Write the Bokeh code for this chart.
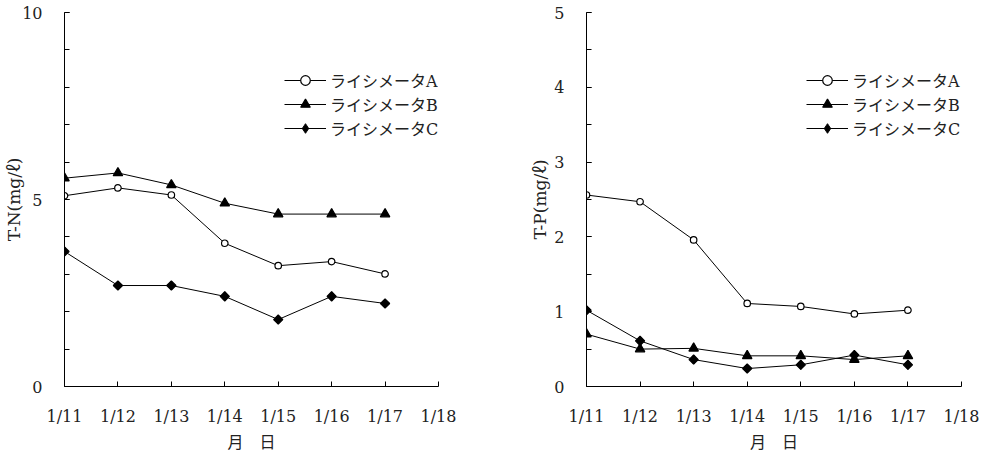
import math
from bokeh.plotting import figure
from bokeh.models import Range1d, FixedTicker, Legend, LegendItem
from bokeh.layouts import row
from bokeh.embed import file_html
from bokeh.resources import INLINE

dates = ["1/11", "1/12", "1/13", "1/14", "1/15", "1/16", "1/17", "1/18"]
series_names = ["ライシメータA", "ライシメータB", "ライシメータC"]

tn_a = [5.10, 5.31, 5.12, 3.83, 3.23, 3.34, 3.01]
tn_b = [5.57, 5.71, 5.39, 4.90, 4.61, 4.61, 4.61]
tn_c = [3.61, 2.70, 2.70, 2.41, 1.79, 2.41, 2.22]

tp_a = [2.56, 2.47, 1.96, 1.11, 1.07, 0.97, 1.02]
tp_b = [0.70, 0.50, 0.51, 0.41, 0.41, 0.36, 0.41]
tp_c = [1.02, 0.61, 0.36, 0.24, 0.29, 0.42, 0.29]

FONT = "'DejaVu Serif', 'Noto Sans CJK JP', serif"
TXT = "#222222"


def make(width, bl, br, ymax, ymajor, yminor, ylabel, data, ylab_standoff):
    p = figure(width=width, height=454, output_backend="svg", toolbar_location=None,
               x_range=Range1d(0, 7), y_range=Range1d(0, ymax),
               min_border_left=bl, min_border_right=br, min_border_top=12,
               min_border_bottom=68)
    p.outline_line_color = None
    p.xgrid.visible = False
    p.ygrid.visible = False
    xs = list(range(len(data[0])))
    # marker, fill, size, angle, legend marker, legend size
    markers = [("circle", "white", 6.5, 0, "circle", 6.5),
               ("triangle", "black", 9.5, 0, "triangle", 9.5),
               ("square", "black", 6.5, math.pi / 4, "diamond", 9)]
    rends = []
    for ys, (mk, fill, sz, ang, lmk, lsz) in zip(data, markers):
        l = p.line(xs, ys, line_color="black", line_width=1)
        if mk == lmk:
            s = p.scatter(xs, ys, marker=mk, size=sz, fill_color=fill,
                          line_color="black", line_width=1.2)
            rends.append([l, s])
        else:
            ls = p.scatter(xs, ys, marker=lmk, size=lsz, fill_color=fill,
                           line_color="black", line_width=1.0)
            p.scatter(xs, ys, marker=mk, size=sz, angle=ang, fill_color=fill,
                      line_color="black", line_width=1.2)
            rends.append([l, ls])
    for ax in (p.xaxis[0], p.yaxis[0]):
        ax.axis_line_color = "black"
        ax.axis_line_width = 1
        ax.major_tick_in = 5
        ax.major_tick_out = 0
        ax.minor_tick_in = 5
        ax.minor_tick_out = 0
        ax.major_tick_line_color = "black"
        ax.minor_tick_line_color = "black"
        ax.major_label_text_font = FONT
        ax.major_label_text_font_size = "16px"
        ax.major_label_text_color = TXT
        ax.axis_label_text_font = FONT
        ax.axis_label_text_font_size = "16px"
        ax.axis_label_text_font_style = "normal"
        ax.axis_label_text_color = TXT
    p.xaxis[0].ticker = FixedTicker(ticks=list(range(len(dates))), minor_ticks=[])
    p.xaxis[0].major_label_overrides = {i: d for i, d in enumerate(dates)}
    p.xaxis[0].major_label_standoff = 20
    p.xaxis[0].axis_label = "月　日"
    p.xaxis[0].axis_label_standoff = 4
    p.yaxis[0].ticker = FixedTicker(ticks=ymajor, minor_ticks=yminor)
    p.yaxis[0].major_label_standoff = 22
    p.yaxis[0].axis_label = ylabel
    p.yaxis[0].axis_label_text_font_size = "17px"
    p.yaxis[0].axis_label_standoff = ylab_standoff

    items = [LegendItem(label=n, renderers=r) for n, r in zip(series_names, rends)]
    leg = Legend(items=items, location=(220, 246), glyph_width=42, glyph_height=24,
                 label_height=24, spacing=0, label_standoff=4, padding=0, margin=0,
                 border_line_color=None, background_fill_alpha=0,
                 label_text_font=FONT, label_text_font_size="16px", label_text_color=TXT)
    p.add_layout(leg, "center")
    return p


p1 = make(490, 64, 52, 10, [0, 5, 10], list(range(11)), "T-N(mg/ℓ)",
          [tn_a, tn_b, tn_c], -5)
p2 = make(494, 96, 23, 5, [0, 1, 2, 3, 4, 5], [i * 0.5 for i in range(11)], "T-P(mg/ℓ)",
          [tp_a, tp_b, tp_c], 1)

layout = row(p1, p2)
open("out.html", "w").write(file_html(layout, INLINE))
